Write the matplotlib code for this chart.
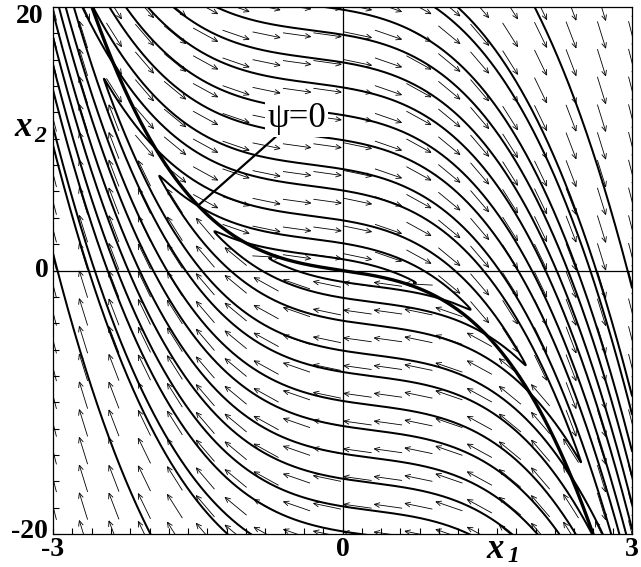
import math
import numpy as np
import matplotlib
matplotlib.use("Agg")
import matplotlib.pyplot as plt
from matplotlib.collections import LineCollection
from matplotlib.ticker import MultipleLocator, FixedLocator, NullFormatter

# ---------------- values ----------------
x1_lim = [-3, 3]
x2_lim = [-20, 20]
x1_ticks = [-3, 0, 3]
x1_tick_labels = ["-3", "0", "3"]
x2_ticks = [-20, 0, 20]
x2_tick_labels = ["-20", "0", "20"]

# switching curve psi = x2 + psi_lin*x1 + psi_cub*x1^3 (the thick curve)
psi_lin = 1.1
psi_cub = 0.98
# turning curve of the trajectories sigma = x2 + sig_lin*x1 + sig_cub*x1^3
sig_lin = 0.75
sig_cub = 0.84
spring = 1.6
friction = 0.46
layer = 0.08

# trajectory start points (on x1 = 0) and forward time limits
start_x2 = [-32.2, -24.0, -22.6, -19.8, -17.9, -15.8, -13.9, -11.8,
            -9.9, -7.7, -3.81, 3.81, 7.7, 9.9, 11.8, 13.9, 15.8,
            17.9, 19.8, 22.6, 24.0, 32.2]
start_x1 = [0.0] * len(start_x2)
fwd_time = [7.4 if abs(v) < 5 else 12.0 for v in start_x2]
bwd_time = [12.0] * len(start_x2)

# direction field grid
grid_n1 = 20
grid_n2 = 20

psi_text = "ψ=0"


def rhs(x1, x2):
    sig = x2 + sig_lin * x1 + sig_cub * x1 ** 3
    s = math.tanh(sig / layer)
    dsig = -spring * x1 - friction * s
    dx1 = s
    dx2 = dsig - (sig_lin + 3 * sig_cub * x1 ** 2) * s
    return dx1, dx2


def inside(x, y):
    return abs(x) <= 3.03 and abs(y) <= 20.4


def integrate(x, y, sign, tmax, dt=0.003):
    xs, ys = [x], [y]
    t = 0.0
    seen = inside(x, y)
    while t < tmax:
        k1 = rhs(x, y)
        k2 = rhs(x + 0.5 * sign * dt * k1[0], y + 0.5 * sign * dt * k1[1])
        k3 = rhs(x + 0.5 * sign * dt * k2[0], y + 0.5 * sign * dt * k2[1])
        k4 = rhs(x + sign * dt * k3[0], y + sign * dt * k3[1])
        x += sign * dt * (k1[0] + 2 * k2[0] + 2 * k3[0] + k4[0]) / 6
        y += sign * dt * (k1[1] + 2 * k2[1] + 2 * k3[1] + k4[1]) / 6
        xs.append(x)
        ys.append(y)
        t += dt
        now = inside(x, y)
        if seen and not now:
            break
        seen = seen or now
        if abs(x) > 3.3 or abs(y) > 45:
            break
    return xs, ys


fig = plt.figure(figsize=(6.41, 5.67), dpi=100)
ax = fig.add_axes([53 / 641, 1 - 534 / 567, 579 / 641, 527 / 567])
ax.set_xlim(x1_lim)
ax.set_ylim(x2_lim)

# axes through origin
ax.axhline(0, color="black", lw=0.9, zorder=1)
ax.axvline(0, color="black", lw=0.9, zorder=1)

# trajectories
for x0, y0, tf, tb in zip(start_x1, start_x2, fwd_time, bwd_time):
    bx, by = integrate(x0, y0, -1.0, tb)
    fx, fy = integrate(x0, y0, 1.0, tf)
    xs = bx[::-1] + fx[1:]
    ys = by[::-1] + fy[1:]
    ax.plot(xs, ys, color="black", lw=1.45, solid_capstyle="round", zorder=3)

# switching curve psi = 0
xc = np.linspace(-3, 3, 600)
ax.plot(xc, -(psi_lin * xc + psi_cub * xc ** 3), color="black", lw=2.4, zorder=4)

# direction field: fixed-length arrows in screen space
fig.canvas.draw()
trans = ax.transData
inv = trans.inverted()
g1 = np.linspace(x1_lim[0], x1_lim[1], grid_n1)
g2 = np.linspace(x2_lim[0], x2_lim[1], grid_n2)
segs = []
L = 28.0
head = 6.0
ang = math.radians(24)
for a in g1:
    for b in g2:
        d1, d2 = rhs(a, b)
        p0 = trans.transform((a, b))
        p1 = trans.transform((a + d1 * 1e-3, b + d2 * 1e-3))
        v = p1 - p0
        n = np.hypot(*v)
        if n == 0:
            continue
        u = v / n
        tail = p0 - u * L / 2
        tip = p0 + u * L / 2
        segs.append(inv.transform([tail, tip]))
        for sgn in (1, -1):
            c, s_ = math.cos(sgn * ang), math.sin(sgn * ang)
            r = np.array([-u[0] * c + u[1] * s_, -u[0] * s_ - u[1] * c])
            segs.append(inv.transform([tip, tip + r * head]))
ax.add_collection(LineCollection(segs, colors="black", linewidths=0.6, zorder=2))

# ticks (small inward ticks, labels drawn as text)
serif = "Liberation Serif"
ax.xaxis.set_major_locator(FixedLocator(x1_ticks))
ax.yaxis.set_major_locator(FixedLocator(x2_ticks))
ax.xaxis.set_major_formatter(NullFormatter())
ax.yaxis.set_major_formatter(NullFormatter())
ax.xaxis.set_minor_locator(MultipleLocator(0.2))
ax.yaxis.set_minor_locator(MultipleLocator(2))
ax.tick_params(which="both", direction="in", length=4, width=0.8,
               top=False, right=False, colors="black")
for sp in ax.spines.values():
    sp.set_linewidth(0.9)

tick_font = dict(fontfamily=serif, fontsize=20, fontweight="bold", color="black")
for v, lab in zip(x1_ticks, x1_tick_labels):
    ax.annotate(lab, xy=(v, x2_lim[0]), xytext=(0, -2), textcoords="offset points",
                ha="center", va="top", annotation_clip=False, **tick_font)
for v, lab in zip(x2_ticks, x2_tick_labels):
    va, dx, dy = "center", -3, 0
    if v == x2_lim[1]:
        va, dx, dy = "top", -7, 2
    elif v == x2_lim[0]:
        dx, dy = -4, 2
    ax.annotate(lab, xy=(x1_lim[0], v), xytext=(dx, dy), textcoords="offset points",
                ha="right", va=va, annotation_clip=False, **tick_font)

# axis labels
lab_font = dict(fontfamily=serif, fontweight="bold", fontstyle="italic",
                ha="center", va="center", color="black")
fig.text(23 / 641, 1 - 127 / 567, "x", fontsize=25, **lab_font)
fig.text(40 / 641, 1 - 137 / 567, "2", fontsize=17, **lab_font)
fig.text(495 / 641, 1 - 549 / 567, "x", fontsize=25, **lab_font)
fig.text(513 / 641, 1 - 557 / 567, "1", fontsize=17, **lab_font)

# psi = 0 annotation
ax.annotate(psi_text, xy=(-1.49, 4.97), xytext=(-0.78, 10.3),
            fontfamily=serif, fontsize=25, ha="left", va="bottom", zorder=6,
            bbox=dict(boxstyle="square,pad=0.05", facecolor="white", edgecolor="none"),
            arrowprops=dict(arrowstyle="-", color="black", lw=1.6,
                            shrinkA=0, shrinkB=0))

fig.savefig("out.png", dpi=100)
